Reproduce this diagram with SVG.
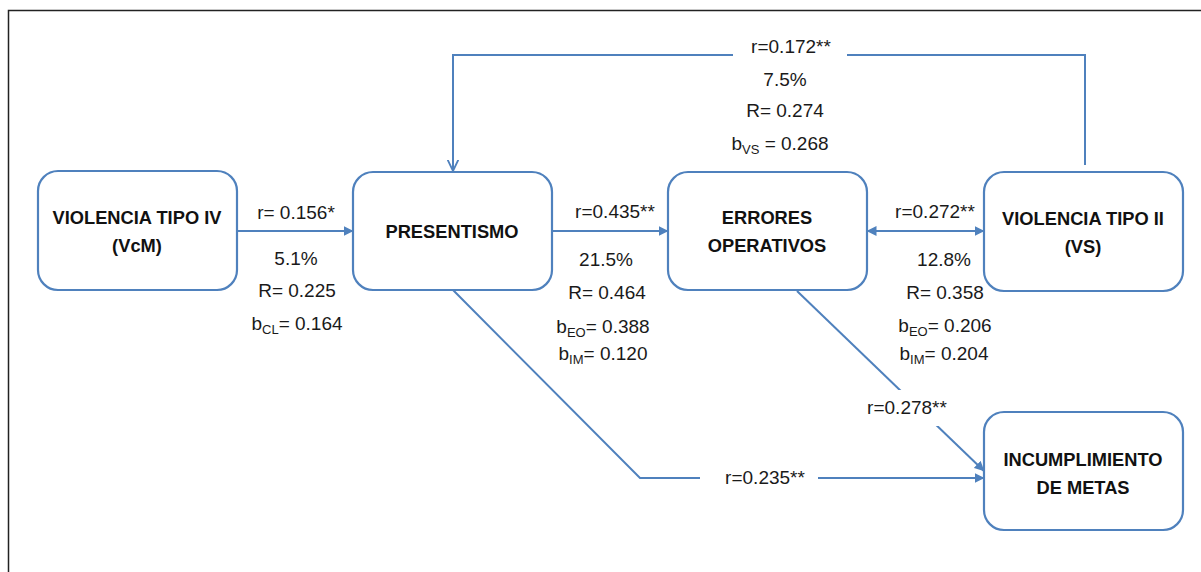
<svg xmlns="http://www.w3.org/2000/svg" width="1201" height="572" viewBox="0 0 1201 572">
<defs>
<style>
.node{fill:#fff;stroke:#4f81bd;stroke-width:2.2}
.ln{fill:none;stroke:#4f81bd;stroke-width:2}
.nt{font-family:"Liberation Sans",Arial,sans-serif;font-size:18.3px;font-weight:bold;fill:#111;text-anchor:middle}
.lb{font-family:"Liberation Sans",Arial,sans-serif;font-size:19px;fill:#1a1a1a;text-anchor:middle}
.sub{font-size:13px}
.bg{fill:#fff}
</style>
<marker id="arr" viewBox="0 0 10 10" refX="9.5" refY="5" markerWidth="5" markerHeight="5" orient="auto-start-reverse" markerUnits="strokeWidth">
<path d="M0,0 L10,5 L0,10 z" fill="#4f81bd"/>
</marker>
<marker id="open" viewBox="0 0 10 10" refX="9.5" refY="5" markerWidth="6" markerHeight="6" orient="auto" markerUnits="strokeWidth">
<path d="M0,0.5 L9.5,5 L0,9.5" fill="none" stroke="#4f81bd" stroke-width="1.5"/>
</marker>
</defs>
<rect width="1201" height="572" fill="#fff"/>
<path d="M8.5,572 V10.5 H1201" fill="none" stroke="#222" stroke-width="1.5"/>

<g id="connectors">
<line class="ln" x1="237" y1="231" x2="353" y2="231" marker-end="url(#arr)"/>
<line class="ln" x1="552" y1="231" x2="668" y2="231" marker-end="url(#arr)"/>
<line class="ln" x1="867" y1="231" x2="984" y2="231" marker-start="url(#arr)" marker-end="url(#arr)"/>
<path class="ln" d="M1085,165 V55 H453 V171" marker-end="url(#open)"/>
<path class="ln" d="M453,290 L640,478 H984" marker-end="url(#arr)"/>
<line class="ln" x1="797" y1="291" x2="984" y2="471" marker-end="url(#arr)"/>
<rect class="bg" x="733" y="36" width="114" height="28"/>
<rect class="bg" x="700" y="465" width="118" height="28"/>
<rect class="bg" x="856" y="390" width="100" height="36"/>
<text class="lb" x="296" y="219">r= 0.156*</text>
<text class="lb" x="296" y="265">5.1%</text>
<text class="lb" x="297" y="297">R= 0.225</text>
<text class="lb" x="297" y="330">b<tspan class="sub" dy="4">CL</tspan><tspan dy="-4">= 0.164</tspan></text>
<text class="lb" x="615" y="218">r=0.435**</text>
<text class="lb" x="606" y="266">21.5%</text>
<text class="lb" x="607" y="299">R= 0.464</text>
<text class="lb" x="603" y="333">b<tspan class="sub" dy="4">EO</tspan><tspan dy="-4">= 0.388</tspan></text>
<text class="lb" x="603" y="360">b<tspan class="sub" dy="4">IM</tspan><tspan dy="-4">= 0.120</tspan></text>
<text class="lb" x="935" y="218">r=0.272**</text>
<text class="lb" x="944" y="266">12.8%</text>
<text class="lb" x="945" y="299">R= 0.358</text>
<text class="lb" x="945" y="332">b<tspan class="sub" dy="4">EO</tspan><tspan dy="-4">= 0.206</tspan></text>
<text class="lb" x="944" y="360">b<tspan class="sub" dy="4">IM</tspan><tspan dy="-4">= 0.204</tspan></text>
<text class="lb" x="791" y="53">r=0.172**</text>
<text class="lb" x="785" y="86">7.5%</text>
<text class="lb" x="785" y="117">R= 0.274</text>
<text class="lb" x="780" y="150">b<tspan class="sub" dy="4">VS</tspan><tspan dy="-4"> = 0.268</tspan></text>
<text class="lb" x="907" y="414">r=0.278**</text>
<text class="lb" x="765" y="484">r=0.235**</text>
</g>

<g id="n-vcm">
<rect class="node" x="38" y="171" width="199" height="119" rx="20"/>
<text class="nt" x="137" y="224">VIOLENCIA TIPO IV</text>
<text class="nt" x="137" y="252">(VcM)</text>
</g>
<g id="n-presentismo">
<rect class="node" x="353" y="172" width="199" height="118" rx="20"/>
<text class="nt" x="452" y="238">PRESENTISMO</text>
</g>
<g id="n-errores">
<rect class="node" x="668" y="172" width="199" height="118" rx="20"/>
<text class="nt" x="767" y="224">ERRORES</text>
<text class="nt" x="767" y="252">OPERATIVOS</text>
</g>
<g id="n-vs">
<rect class="node" x="984" y="172" width="199" height="119" rx="20"/>
<text class="nt" x="1083" y="225">VIOLENCIA TIPO II</text>
<text class="nt" x="1083" y="253">(VS)</text>
</g>
<g id="n-incumplimiento">
<rect class="node" x="984" y="412" width="199" height="118" rx="20"/>
<text class="nt" x="1083" y="466">INCUMPLIMIENTO</text>
<text class="nt" x="1083" y="494">DE METAS</text>
</g>
</svg>
